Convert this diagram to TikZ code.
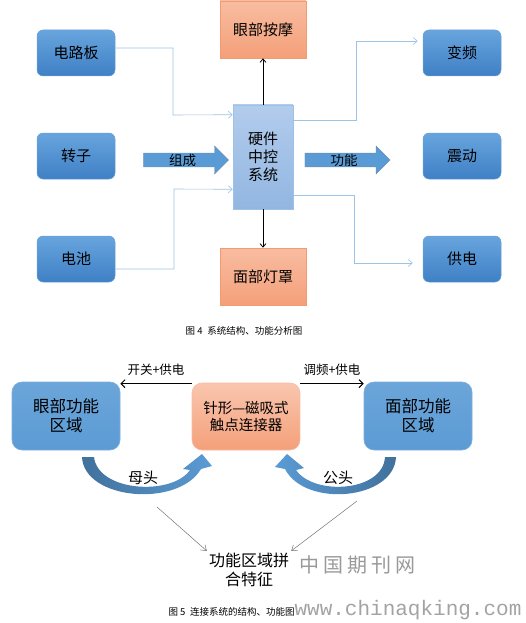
\documentclass[tikz,border=0pt]{standalone}
\usepackage{fontspec}
\setmainfont{Noto Sans CJK SC}
\newfontfamily\wmcjk[LetterSpace=20]{Noto Sans CJK SC}
\newfontfamily\wmmono{Liberation Mono}
\usetikzlibrary{shapes.arrows,arrows.meta}
\definecolor{boxtop}{HTML}{68A5DE}
\definecolor{boxbot}{HTML}{3F80C5}
\definecolor{boxedge}{HTML}{6C9FD6}
\definecolor{oratop}{HTML}{F8BCA1}
\definecolor{orabot}{HTML}{F4A079}
\definecolor{oraedge}{HTML}{F29B70}
\definecolor{coretop}{HTML}{B2CCEC}
\definecolor{corebot}{HTML}{92B6E1}
\definecolor{coreedge}{HTML}{9FC0E7}
\definecolor{midblue}{HTML}{5B9BD5}
\definecolor{darkblue}{HTML}{41719C}
\definecolor{lineblue}{HTML}{9DC3E6}
\begin{document}
\begin{tikzpicture}[x=1pt,y=-1pt,
    bluebox/.style={rounded corners=6pt, minimum width=78pt, minimum height=46pt,
      top color=boxtop, bottom color=boxbot, draw=boxedge, line width=0.5pt,
      font=\fontsize{15}{18}\selectfont},
    orangebox/.style={minimum width=86pt, minimum height=57pt,
      top color=oratop, bottom color=orabot, draw=oraedge, line width=0.6pt,
      font=\fontsize{15}{18}\selectfont},
    corebox/.style={minimum width=60pt, minimum height=104pt, align=center,
      top color=coretop, bottom color=corebot, draw=coreedge, line width=0.6pt,
      font=\fontsize{15}{18}\selectfont},
    blockarrow/.style={single arrow, single arrow head extend=7pt, inner ysep=0.5pt,
      minimum height=85pt, fill=midblue, draw=darkblue!80, line width=0.4pt,
      font=\fontsize{13.5}{14}\selectfont},
    bigblue/.style={rounded corners=10pt, minimum width=108pt, minimum height=68pt,
      align=center, top color=midblue!90!white, bottom color=midblue,
      draw=midblue!80!white, line width=0.6pt,
      font=\fontsize{16.5}{19}\selectfont},
    bigorange/.style={rounded corners=10pt, minimum width=108pt, minimum height=67pt,
      align=center, top color=oratop!85!white, bottom color=orabot,
      draw=oratop, line width=0.6pt,
      font=\fontsize{14.5}{17}\selectfont},
    thinline/.style={draw=lineblue, line width=0.6pt,
      -{Straight Barb[length=4pt,width=7pt]}},
    blackarr/.style={draw=black, line width=0.8pt,
      -{Straight Barb[length=3.5pt,width=6pt]}},
    sidearr/.style={draw=black, line width=1pt,
      -{Straight Barb[length=4pt,width=8pt]}},
    grayarr/.style={draw=black!55, line width=0.5pt,
      -{Straight Barb[length=5pt,width=7pt]}},
    lbl/.style={font=\fontsize{12.5}{14}\selectfont},
    caption/.style={font=\fontsize{9.5}{11}\selectfont},
  ]
  \useasboundingbox (0,0) rectangle (525,623);

  % figure 4
  \node[bluebox] (dlb) at (76,53) {电路板};
  \node[bluebox] (zz) at (76,156) {转子};
  \node[bluebox] (dc) at (76,259) {电池};
  \node[orangebox] (ybam) at (263,29.5) {眼部按摩};
  \node[orangebox] (mbdz) at (263,276.5) {面部灯罩};
  \node[corebox] (zk) at (263,157) {硬件\\中控\\系统};
  \node[bluebox] (bp) at (462,53) {变频};
  \node[bluebox] (zd) at (462,156) {震动};
  \node[bluebox] (gd) at (462,259) {供电};
  \node[blockarrow] (zc) at (182.5,160) {组成};
  \node[blockarrow] (gn) at (344,160) {功能};

  \draw[thinline] ([yshift=5pt]dlb.east) -| (173,115) -- ([yshift=-10pt]zk.north west);
  \draw[thinline] ([yshift=-10pt]dc.east) -| (174,189) -- ([yshift=20pt]zk.south west);
  \draw[thinline] ([yshift=-16pt]zk.north east) -| (356,41) -- ([xshift=-5pt,yshift=12pt]bp.west);
  \draw[thinline] ([yshift=14pt]zk.south east) -| (354,263) -- ([xshift=-10pt,yshift=-4pt]gd.west);
  \draw[blackarr] (zk.north) -- (ybam.south);
  \draw[blackarr] (zk.south) -- (mbdz.north);

  \node[caption] (cap4) at (244,331) {图 4\enspace 系统结构、功能分析图};

  % figure 5
  \node[bigblue] (ybgn) at (66,416) {眼部功能\\区域};
  \node[bigorange] (ljq) at (246,416.5) {针形—磁吸式\\触点连接器};
  \node[bigblue] (mbgn) at (418,416) {面部功能\\区域};
  \draw[sidearr] ([yshift=-1pt]ljq.north west) -- node[lbl, above=4pt] (kg) {开关+供电} ([yshift=-2pt]ybgn.north east);
  \draw[sidearr] ([yshift=-1pt]ljq.north east) -- node[lbl, above=4pt] (tp) {调频+供电} ([yshift=-2pt]mbgn.north west);

  \shade[left color=darkblue, right color=midblue]
    (82,457) .. controls (84,500) and (178,508) .. (201,469) -- (212,466) -- (202,454)
    -- (183,469) -- (190,470) .. controls (172,496) and (98,492) .. (94,457) -- cycle;
  \shade[left color=midblue, right color=darkblue]
    (396,457) .. controls (394,500) and (305,508) .. (285,469) -- (275,467) -- (287,454)
    -- (304,468) -- (296,470) .. controls (314,496) and (383,492) .. (385,457) -- cycle;
  \node[font=\fontsize{15}{16}\selectfont] (mt) at (143,478) {母头};
  \node[font=\fontsize{15}{16}\selectfont] (gt) at (338,478) {公头};

  \coordinate (ms) at (157,507);
  \coordinate (gs) at (357,501);
  \node[align=center, inner sep=2pt, font=\fontsize{16}{19}\selectfont] (pj) at (249,570) {功能区域拼\\合特征};
  \draw[grayarr] (ms) -- (pj.north west);
  \draw[grayarr] (gs) -- (pj.north east);

  \node[caption, anchor=west] (cap5) at (165,612) {图 5\enspace 连接系统的结构、功能图};

  % watermark
  \node[text=black!40, font=\wmcjk\fontsize{20}{22}\selectfont] (wm1) at (357,565) {中国期刊网};
  \node[text=black!45, text opacity=0.8, font=\wmmono\fontsize{21}{22}\selectfont] (wm2) at (408,610) {www.chinaqking.com};
\end{tikzpicture}
\end{document}
